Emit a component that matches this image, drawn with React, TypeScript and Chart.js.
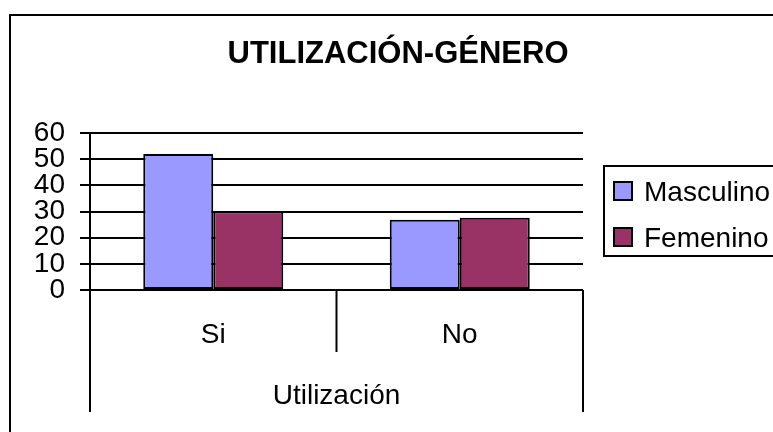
import React, { useEffect, useRef } from "react";
import { Chart, registerables } from "chart.js";

Chart.register(...registerables);

const categories = ["Si", "No"];
const masculino = [52, 26.8];
const femenino = [30, 27.6];
const seriesLabels = ["Masculino", "Femenino"];
const seriesColors = ["#9999FF", "#993366"];
const yTicks = [0, 10, 20, 30, 40, 50, 60];
const chartTitle = "UTILIZACIÓN-GÉNERO";
const axisTitle = "Utilización";

const FONT = "Liberation Sans";
const FS = 28;

const decorPlugin = {
  id: "decor",
  afterDraw(chart: any) {
    const ctx = chart.ctx;
    const area = chart.chartArea;
    const xs = chart.scales.x;
    ctx.save();
    ctx.strokeStyle = "#000";
    ctx.lineWidth = 2;
    // outer frame
    ctx.strokeRect(10, 15, 900, 600);
    // category separators
    const n = chart.data.labels.length;
    const bounds: number[] = [area.left];
    for (let i = 0; i < n - 1; i++) {
      bounds.push((xs.getPixelForValue(i) + xs.getPixelForValue(i + 1)) / 2);
    }
    bounds.push(area.right);
    bounds.forEach((bx, i) => {
      const outer = i === 0 || i === bounds.length - 1;
      ctx.beginPath();
      ctx.moveTo(bx, area.bottom);
      ctx.lineTo(bx, outer ? 412 : 352);
      ctx.stroke();
    });
    // title
    ctx.fillStyle = "#000";
    ctx.font = `bold 31px '${FONT}'`;
    ctx.textAlign = "center";
    ctx.textBaseline = "alphabetic";
    ctx.fillText(chartTitle, 398, 63);
    // legend
    ctx.strokeRect(604, 166, 300, 90);
    ctx.font = `${FS}px '${FONT}'`;
    ctx.textAlign = "left";
    chart.data.datasets.forEach((ds: any, i: number) => {
      const cy = 191 + i * 46;
      ctx.fillStyle = ds.backgroundColor;
      ctx.fillRect(614, cy - 9, 18, 18);
      ctx.strokeRect(614, cy - 9, 18, 18);
      ctx.fillStyle = "#000";
      ctx.fillText(ds.label, 644, cy + 10);
    });
    ctx.restore();
  },
};

export default function App() {
  const ref = useRef<HTMLCanvasElement>(null);
  useEffect(() => {
    document.body.style.margin = "0";
    const chart = new Chart(ref.current!, {
      type: "bar",
      data: {
        labels: categories,
        datasets: [
          {
            label: seriesLabels[0],
            data: masculino,
            backgroundColor: seriesColors[0],
            borderColor: "#000",
            borderWidth: 2,
            borderSkipped: false,
            categoryPercentage: 0.568,
            barPercentage: 1,
          },
          {
            label: seriesLabels[1],
            data: femenino,
            backgroundColor: seriesColors[1],
            borderColor: "#000",
            borderWidth: 2,
            borderSkipped: false,
            categoryPercentage: 0.568,
            barPercentage: 1,
          },
        ],
      },
      options: {
        animation: false,
        responsive: false,
        layout: { padding: { left: 0, top: 133, right: 190, bottom: 0 } },
        plugins: {
          legend: { display: false },
          title: { display: false },
          tooltip: { enabled: false },
        },
        scales: {
          x: {
            offset: true,
            grid: { display: false, drawTicks: false },
            border: { display: false },
            ticks: {
              color: "#000",
              font: { family: FONT, size: FS, lineHeight: 1.2 },
              padding: 28,
            },
            title: {
              display: true,
              text: axisTitle,
              color: "#000",
              font: { family: FONT, size: FS, lineHeight: 1.2 },
              padding: { top: 0, bottom: 19 },
            },
            afterFit: (s: any) => {
              s.height = 142;
            },
          },
          y: {
            min: yTicks[0],
            max: yTicks[yTicks.length - 1],
            afterBuildTicks: (s: any) => {
              s.ticks = yTicks.map((v) => ({ value: v }));
            },
            ticks: {
              stepSize: 10,
              autoSkip: false,
              color: "#000",
              font: { family: FONT, size: FS, lineHeight: 1 },
              padding: 15,
            },
            grid: { color: "#000", lineWidth: 2, tickLength: 10, drawTicks: true },
            border: { display: true, color: "#000", width: 2 },
            afterFit: (s: any) => {
              s.width = 90;
            },
          },
        },
      },
      plugins: [decorPlugin],
    });
    return () => chart.destroy();
  }, []);
  return <canvas ref={ref} width={773} height={432} style={{ display: "block" }} />;
}
